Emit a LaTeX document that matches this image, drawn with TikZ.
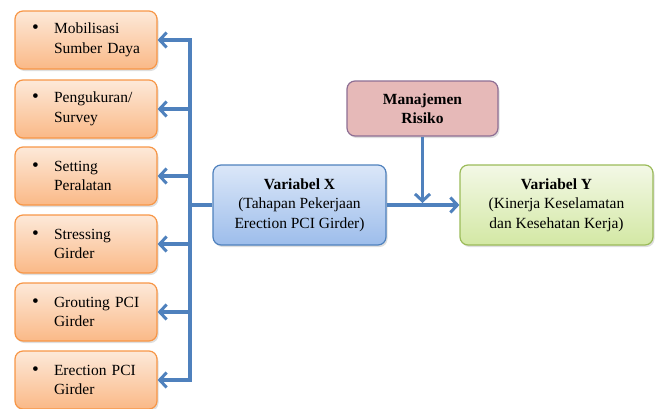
\documentclass[tikz,border=0pt]{standalone}
\usepackage{fontspec}
\setmainfont{Liberation Serif}
\usetikzlibrary{arrows.meta,shadows,calc}
\definecolor{arrowblue}{HTML}{4F81BD}
\definecolor{orTop}{HTML}{FDE9D9}
\definecolor{orBot}{HTML}{FAB987}
\definecolor{orLine}{HTML}{F79646}
\definecolor{blTop}{HTML}{DBE7F8}
\definecolor{blBot}{HTML}{9DBDEB}
\definecolor{blLine}{HTML}{4F81BD}
\definecolor{rdFill}{HTML}{E6B9B8}
\definecolor{rdLine}{HTML}{8E6F94}
\definecolor{grTop}{HTML}{F3F8E6}
\definecolor{grBot}{HTML}{D3E8A4}
\definecolor{grLine}{HTML}{9BBB59}
\tikzset{
  basebox/.style={rounded corners=8pt, line width=1.2pt, font=\fontsize{15.5}{19.5}\selectfont,
    drop shadow={shadow xshift=1.5pt, shadow yshift=-2pt, opacity=0.25}},
  leftbox/.style={basebox, draw=orLine, top color=orTop, bottom color=orBot,
    minimum width=142pt, minimum height=58pt, text width=114pt, align=left, inner xsep=14pt},
  xbox/.style={basebox, draw=blLine, top color=blTop, bottom color=blBot,
    minimum width=173pt, minimum height=80pt, align=center},
  ybox/.style={basebox, draw=grLine, top color=grTop, bottom color=grBot,
    minimum width=193pt, minimum height=80pt, align=center},
  mbox/.style={basebox, draw=rdLine, fill=rdFill,
    minimum width=151pt, minimum height=55pt, align=center},
  conn/.style={draw=arrowblue, line width=3.2pt},
  arr/.style={conn, -{Straight Barb[length=7pt,width=15pt,line width=3pt]}}
}
\newcommand{\bl}[2]{\makebox[25pt][l]{\hspace*{3pt}\scalebox{1.25}{\textbullet}}#1\\\hspace*{25pt}#2}
\begin{document}
\begin{tikzpicture}[x=1pt,y=-1pt]
\useasboundingbox (0,0) rectangle (657,408);
\node[leftbox] (b1) at (86,40) {\bl{Mobilisasi}{Sumber Daya}};
\node[leftbox] (b2) at (86,109) {\bl{Pengukuran/}{Survey}};
\node[leftbox] (b3) at (86,176) {\bl{Setting}{Peralatan}};
\node[leftbox] (b4) at (86,244) {\bl{Stressing}{Girder}};
\node[leftbox] (b5) at (86,312) {\bl{Grouting PCI}{Girder}};
\node[leftbox] (b6) at (86,380) {\bl{Erection PCI}{Girder}};
\node[xbox] (x) at (299.5,205) {\textbf{Variabel X}\\(Tahapan Pekerjaan\\Erection PCI Girder)};
\node[ybox] (y) at (556.5,205) {\textbf{Variabel Y}\\(Kinerja Keselamatan\\dan Kesehatan Kerja)};
\node[mbox] (m) at (422.5,108.5) {\textbf{Manajemen}\\\textbf{Risiko}};
\coordinate (spine) at (190,0);
\draw[conn, line cap=rect] (spine |- b1.east) -- (spine |- b6.east);
\foreach \b in {b1,b2,b3,b4,b5,b6}
  \draw[arr] (spine |- \b.east) -- (\b.east);
\draw[conn] (x.west) -- (spine |- x.west);
\draw[arr] (x.east) -- (y.west);
\draw[arr] (m.south) -- ($(m.south |- x.east)+(0,-2)$);
\end{tikzpicture}
\end{document}
